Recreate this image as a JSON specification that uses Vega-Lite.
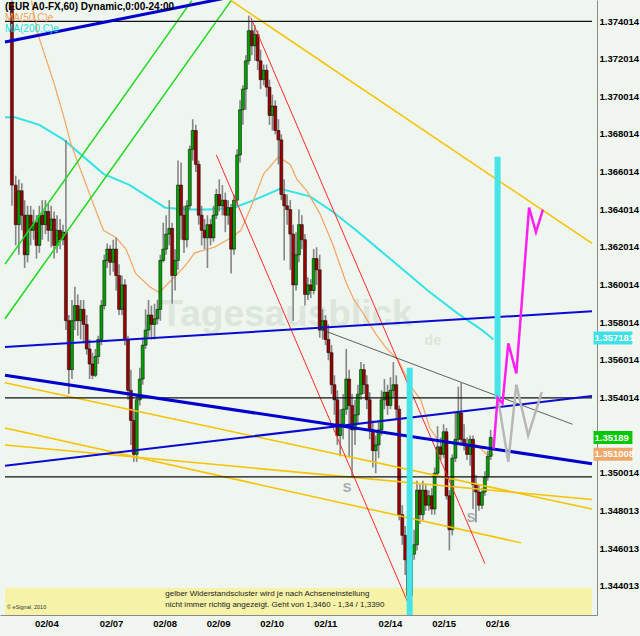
{
"$schema":"https://vega.github.io/schema/vega-lite/v6.json",
"width":597,"height":615,
"autosize":{"type":"none"},
"padding":{"left":0,"top":0,"right":43,"bottom":21},
"background":"#f1f6f1",
"config":{"view":{"stroke":null,"fill":"#eff5ef"},"font":"Liberation Sans"},
"datasets":{
"candles":[
{"t":-15.4,"o":1.3750,"h":1.3751,"l":1.3642,"c":1.3653},
{"t":-13.7,"o":1.3653,"h":1.3658,"l":1.3621,"c":1.3632},
{"t":-12.3,"o":1.3632,"h":1.3656,"l":1.3616,"c":1.3650},
{"t":-11.0,"o":1.3650,"h":1.3654,"l":1.3629,"c":1.3637},
{"t":-9.7,"o":1.3637,"h":1.3645,"l":1.3609,"c":1.3616},
{"t":-8.4,"o":1.3616,"h":1.3642,"l":1.3612,"c":1.3637},
{"t":-7.0,"o":1.3637,"h":1.3642,"l":1.3621,"c":1.3629},
{"t":-5.7,"o":1.3629,"h":1.3640,"l":1.3624,"c":1.3633},
{"t":-4.4,"o":1.3633,"h":1.3637,"l":1.3614,"c":1.3621},
{"t":-3.1,"o":1.3621,"h":1.3642,"l":1.3617,"c":1.3637},
{"t":-1.8,"o":1.3637,"h":1.3645,"l":1.3624,"c":1.3632},
{"t":-0.4,"o":1.3632,"h":1.3645,"l":1.3627,"c":1.3639},
{"t":0.9,"o":1.3639,"h":1.3643,"l":1.3623,"c":1.3629},
{"t":2.2,"o":1.3629,"h":1.3642,"l":1.3620,"c":1.3635},
{"t":3.5,"o":1.3635,"h":1.3639,"l":1.3614,"c":1.3621},
{"t":4.8,"o":1.3621,"h":1.3637,"l":1.3617,"c":1.3629},
{"t":6.2,"o":1.3629,"h":1.3635,"l":1.3619,"c":1.3624},
{"t":7.5,"o":1.3624,"h":1.3632,"l":1.3621,"c":1.3628},
{"t":8.8,"o":1.3628,"h":1.3677,"l":1.3576,"c":1.3581},
{"t":10.1,"o":1.3581,"h":1.3584,"l":1.3542,"c":1.3555},
{"t":11.5,"o":1.3555,"h":1.3592,"l":1.3550,"c":1.3581},
{"t":12.8,"o":1.3581,"h":1.3599,"l":1.3576,"c":1.3589},
{"t":14.1,"o":1.3589,"h":1.3595,"l":1.3573,"c":1.3581},
{"t":15.4,"o":1.3581,"h":1.3592,"l":1.3571,"c":1.3587},
{"t":16.7,"o":1.3587,"h":1.3592,"l":1.3569,"c":1.3579},
{"t":18.1,"o":1.3579,"h":1.3584,"l":1.3563,"c":1.3566},
{"t":19.4,"o":1.3566,"h":1.3571,"l":1.3550,"c":1.3558},
{"t":20.7,"o":1.3558,"h":1.3564,"l":1.3550,"c":1.3552},
{"t":22.0,"o":1.3552,"h":1.3566,"l":1.3551,"c":1.3562},
{"t":23.3,"o":1.3562,"h":1.3573,"l":1.3558,"c":1.3571},
{"t":24.7,"o":1.3571,"h":1.3592,"l":1.3568,"c":1.3589},
{"t":26.0,"o":1.3589,"h":1.3616,"l":1.3587,"c":1.3613},
{"t":27.3,"o":1.3613,"h":1.3622,"l":1.3609,"c":1.3619},
{"t":28.6,"o":1.3619,"h":1.3621,"l":1.3605,"c":1.3612},
{"t":30.0,"o":1.3612,"h":1.3624,"l":1.3607,"c":1.3619},
{"t":31.3,"o":1.3619,"h":1.3625,"l":1.3597,"c":1.3605},
{"t":32.6,"o":1.3605,"h":1.3611,"l":1.3584,"c":1.3587},
{"t":33.9,"o":1.3587,"h":1.3605,"l":1.3584,"c":1.3600},
{"t":35.2,"o":1.3600,"h":1.3603,"l":1.3568,"c":1.3571},
{"t":36.6,"o":1.3571,"h":1.3573,"l":1.3539,"c":1.3544},
{"t":37.9,"o":1.3544,"h":1.3555,"l":1.3515,"c":1.3528},
{"t":39.2,"o":1.3528,"h":1.3534,"l":1.3506,"c":1.3510},
{"t":40.5,"o":1.3510,"h":1.3542,"l":1.3506,"c":1.3539},
{"t":41.9,"o":1.3539,"h":1.3556,"l":1.3536,"c":1.3550},
{"t":43.2,"o":1.3550,"h":1.3572,"l":1.3547,"c":1.3568},
{"t":44.5,"o":1.3568,"h":1.3587,"l":1.3566,"c":1.3576},
{"t":45.8,"o":1.3576,"h":1.3592,"l":1.3572,"c":1.3584},
{"t":47.1,"o":1.3584,"h":1.3589,"l":1.3571,"c":1.3579},
{"t":48.5,"o":1.3579,"h":1.3590,"l":1.3571,"c":1.3582},
{"t":49.8,"o":1.3582,"h":1.3592,"l":1.3579,"c":1.3587},
{"t":51.1,"o":1.3587,"h":1.3616,"l":1.3581,"c":1.3613},
{"t":52.4,"o":1.3613,"h":1.3633,"l":1.3612,"c":1.3619},
{"t":53.7,"o":1.3619,"h":1.3637,"l":1.3616,"c":1.3627},
{"t":55.1,"o":1.3627,"h":1.3645,"l":1.3621,"c":1.3630},
{"t":56.4,"o":1.3630,"h":1.3633,"l":1.3590,"c":1.3605},
{"t":57.7,"o":1.3605,"h":1.3619,"l":1.3597,"c":1.3613},
{"t":59.0,"o":1.3613,"h":1.3666,"l":1.3608,"c":1.3653},
{"t":60.4,"o":1.3653,"h":1.3665,"l":1.3624,"c":1.3637},
{"t":61.7,"o":1.3637,"h":1.3642,"l":1.3617,"c":1.3624},
{"t":63.0,"o":1.3624,"h":1.3645,"l":1.3620,"c":1.3642},
{"t":64.3,"o":1.3642,"h":1.3674,"l":1.3640,"c":1.3672},
{"t":65.6,"o":1.3672,"h":1.3688,"l":1.3666,"c":1.3682},
{"t":67.0,"o":1.3682,"h":1.3685,"l":1.3660,"c":1.3664},
{"t":68.3,"o":1.3664,"h":1.3666,"l":1.3632,"c":1.3637},
{"t":69.6,"o":1.3637,"h":1.3642,"l":1.3621,"c":1.3629},
{"t":70.9,"o":1.3629,"h":1.3635,"l":1.3619,"c":1.3625},
{"t":72.2,"o":1.3625,"h":1.3637,"l":1.3609,"c":1.3632},
{"t":73.6,"o":1.3632,"h":1.3635,"l":1.3621,"c":1.3625},
{"t":74.9,"o":1.3625,"h":1.3642,"l":1.3623,"c":1.3637},
{"t":76.2,"o":1.3637,"h":1.3651,"l":1.3635,"c":1.3648},
{"t":77.5,"o":1.3648,"h":1.3656,"l":1.3639,"c":1.3642},
{"t":78.9,"o":1.3642,"h":1.3653,"l":1.3637,"c":1.3645},
{"t":80.2,"o":1.3645,"h":1.3649,"l":1.3628,"c":1.3637},
{"t":81.5,"o":1.3637,"h":1.3645,"l":1.3632,"c":1.3641},
{"t":82.8,"o":1.3641,"h":1.3643,"l":1.3606,"c":1.3619},
{"t":84.1,"o":1.3619,"h":1.3648,"l":1.3616,"c":1.3645},
{"t":85.5,"o":1.3645,"h":1.3672,"l":1.3642,"c":1.3669},
{"t":86.8,"o":1.3669,"h":1.3698,"l":1.3665,"c":1.3693},
{"t":88.1,"o":1.3693,"h":1.3706,"l":1.3685,"c":1.3704},
{"t":89.4,"o":1.3704,"h":1.3722,"l":1.3693,"c":1.3719},
{"t":90.7,"o":1.3719,"h":1.3743,"l":1.3717,"c":1.3735},
{"t":92.1,"o":1.3735,"h":1.3740,"l":1.3722,"c":1.3727},
{"t":93.4,"o":1.3727,"h":1.3738,"l":1.3719,"c":1.3733},
{"t":94.7,"o":1.3733,"h":1.3735,"l":1.3714,"c":1.3719},
{"t":96.0,"o":1.3719,"h":1.3725,"l":1.3704,"c":1.3709},
{"t":97.4,"o":1.3709,"h":1.3717,"l":1.3706,"c":1.3714},
{"t":98.7,"o":1.3714,"h":1.3717,"l":1.3700,"c":1.3705},
{"t":100.0,"o":1.3705,"h":1.3709,"l":1.3685,"c":1.3690},
{"t":101.3,"o":1.3690,"h":1.3701,"l":1.3682,"c":1.3695},
{"t":102.6,"o":1.3695,"h":1.3698,"l":1.3680,"c":1.3682},
{"t":104.0,"o":1.3682,"h":1.3688,"l":1.3664,"c":1.3677},
{"t":105.3,"o":1.3677,"h":1.3680,"l":1.3645,"c":1.3648},
{"t":106.6,"o":1.3648,"h":1.3656,"l":1.3613,"c":1.3642},
{"t":107.9,"o":1.3642,"h":1.3648,"l":1.3632,"c":1.3640},
{"t":109.3,"o":1.3640,"h":1.3645,"l":1.3608,"c":1.3627},
{"t":110.6,"o":1.3627,"h":1.3632,"l":1.3581,"c":1.3600},
{"t":111.9,"o":1.3600,"h":1.3628,"l":1.3597,"c":1.3616},
{"t":113.2,"o":1.3616,"h":1.3640,"l":1.3612,"c":1.3632},
{"t":114.5,"o":1.3632,"h":1.3637,"l":1.3619,"c":1.3624},
{"t":115.9,"o":1.3624,"h":1.3627,"l":1.3589,"c":1.3595},
{"t":117.2,"o":1.3595,"h":1.3604,"l":1.3592,"c":1.3600},
{"t":118.5,"o":1.3600,"h":1.3603,"l":1.3593,"c":1.3597},
{"t":119.8,"o":1.3597,"h":1.3619,"l":1.3595,"c":1.3614},
{"t":121.1,"o":1.3614,"h":1.3620,"l":1.3600,"c":1.3608},
{"t":122.5,"o":1.3608,"h":1.3616,"l":1.3572,"c":1.3576},
{"t":123.8,"o":1.3576,"h":1.3587,"l":1.3571,"c":1.3581},
{"t":125.1,"o":1.3581,"h":1.3584,"l":1.3568,"c":1.3571},
{"t":126.4,"o":1.3571,"h":1.3579,"l":1.3560,"c":1.3564},
{"t":127.8,"o":1.3564,"h":1.3568,"l":1.3542,"c":1.3547},
{"t":129.1,"o":1.3547,"h":1.3552,"l":1.3531,"c":1.3539},
{"t":130.4,"o":1.3539,"h":1.3544,"l":1.3515,"c":1.3520},
{"t":131.7,"o":1.3520,"h":1.3534,"l":1.3509,"c":1.3526},
{"t":133.0,"o":1.3526,"h":1.3542,"l":1.3518,"c":1.3534},
{"t":134.4,"o":1.3534,"h":1.3566,"l":1.3531,"c":1.3550},
{"t":135.7,"o":1.3550,"h":1.3555,"l":1.3509,"c":1.3536},
{"t":137.0,"o":1.3536,"h":1.3542,"l":1.3498,"c":1.3523},
{"t":138.3,"o":1.3523,"h":1.3539,"l":1.3515,"c":1.3531},
{"t":139.6,"o":1.3531,"h":1.3547,"l":1.3526,"c":1.3542},
{"t":141.0,"o":1.3542,"h":1.3559,"l":1.3539,"c":1.3555},
{"t":142.3,"o":1.3555,"h":1.3558,"l":1.3542,"c":1.3547},
{"t":143.6,"o":1.3547,"h":1.3552,"l":1.3534,"c":1.3539},
{"t":144.9,"o":1.3539,"h":1.3543,"l":1.3518,"c":1.3523},
{"t":146.3,"o":1.3523,"h":1.3528,"l":1.3503,"c":1.3512},
{"t":147.6,"o":1.3512,"h":1.3520,"l":1.3500,"c":1.3515},
{"t":148.9,"o":1.3515,"h":1.3528,"l":1.3508,"c":1.3523},
{"t":150.2,"o":1.3523,"h":1.3544,"l":1.3520,"c":1.3539},
{"t":151.5,"o":1.3539,"h":1.3550,"l":1.3534,"c":1.3543},
{"t":152.9,"o":1.3543,"h":1.3547,"l":1.3531,"c":1.3536},
{"t":154.2,"o":1.3536,"h":1.3551,"l":1.3534,"c":1.3544},
{"t":155.5,"o":1.3544,"h":1.3559,"l":1.3540,"c":1.3547},
{"t":156.8,"o":1.3547,"h":1.3552,"l":1.3529,"c":1.3534},
{"t":158.1,"o":1.3534,"h":1.3536,"l":1.3475,"c":1.3478},
{"t":159.5,"o":1.3478,"h":1.3483,"l":1.3462,"c":1.3467},
{"t":160.8,"o":1.3467,"h":1.3472,"l":1.3446,"c":1.3454},
{"t":162.1,"o":1.3454,"h":1.3459,"l":1.3426,"c":1.3435},
{"t":163.4,"o":1.3435,"h":1.3465,"l":1.3430,"c":1.3457},
{"t":164.8,"o":1.3457,"h":1.3470,"l":1.3454,"c":1.3462},
{"t":166.1,"o":1.3462,"h":1.3496,"l":1.3459,"c":1.3491},
{"t":167.4,"o":1.3491,"h":1.3494,"l":1.3473,"c":1.3478},
{"t":168.7,"o":1.3478,"h":1.3496,"l":1.3475,"c":1.3491},
{"t":170.0,"o":1.3491,"h":1.3494,"l":1.3480,"c":1.3483},
{"t":171.4,"o":1.3483,"h":1.3491,"l":1.3480,"c":1.3488},
{"t":172.7,"o":1.3488,"h":1.3492,"l":1.3478,"c":1.3481},
{"t":174.0,"o":1.3481,"h":1.3503,"l":1.3478,"c":1.3500},
{"t":175.3,"o":1.3500,"h":1.3525,"l":1.3498,"c":1.3514},
{"t":176.7,"o":1.3514,"h":1.3519,"l":1.3507,"c":1.3510},
{"t":178.0,"o":1.3510,"h":1.3526,"l":1.3508,"c":1.3522},
{"t":179.3,"o":1.3522,"h":1.3524,"l":1.3486,"c":1.3488},
{"t":180.6,"o":1.3488,"h":1.3491,"l":1.3459,"c":1.3470},
{"t":181.9,"o":1.3470,"h":1.3510,"l":1.3467,"c":1.3508},
{"t":183.3,"o":1.3508,"h":1.3532,"l":1.3506,"c":1.3518},
{"t":184.6,"o":1.3518,"h":1.3546,"l":1.3515,"c":1.3532},
{"t":185.9,"o":1.3532,"h":1.3548,"l":1.3515,"c":1.3518},
{"t":187.2,"o":1.3518,"h":1.3526,"l":1.3512,"c":1.3515},
{"t":188.5,"o":1.3515,"h":1.3519,"l":1.3507,"c":1.3510},
{"t":189.9,"o":1.3510,"h":1.3520,"l":1.3504,"c":1.3518},
{"t":191.2,"o":1.3518,"h":1.3520,"l":1.3481,"c":1.3494},
{"t":192.5,"o":1.3494,"h":1.3499,"l":1.3474,"c":1.3490},
{"t":193.8,"o":1.3490,"h":1.3494,"l":1.3480,"c":1.3483},
{"t":195.2,"o":1.3483,"h":1.3492,"l":1.3481,"c":1.3490},
{"t":196.5,"o":1.3490,"h":1.3501,"l":1.3488,"c":1.3498},
{"t":197.8,"o":1.3498,"h":1.3512,"l":1.3496,"c":1.3509},
{"t":199.1,"o":1.3509,"h":1.3523,"l":1.3507,"c":1.3519}
],
"ma":[
{"s":"ma200","t":-18.5,"p":1.3689},{"s":"ma200","t":-14.1,"p":1.3689},{"s":"ma200","t":-3.1,"p":1.3685},{"s":"ma200","t":7.9,"p":1.3677},{"s":"ma200","t":25.6,"p":1.3659},{"s":"ma200","t":37.4,"p":1.3653},{"s":"ma200","t":53.3,"p":1.3641},{"s":"ma200","t":63.0,"p":1.3640},{"s":"ma200","t":72.7,"p":1.3640},{"s":"ma200","t":84.1,"p":1.3641},{"s":"ma200","t":93.0,"p":1.3645},{"s":"ma200","t":104.8,"p":1.3651},{"s":"ma200","t":118.1,"p":1.3647},{"s":"ma200","t":128.2,"p":1.3639},{"s":"ma200","t":138.8,"p":1.3629},{"s":"ma200","t":148.9,"p":1.3619},{"s":"ma200","t":159.9,"p":1.3608},{"s":"ma200","t":170.9,"p":1.3597},{"s":"ma200","t":184.1,"p":1.3585},{"s":"ma200","t":195.2,"p":1.3576},{"s":"ma200","t":200.4,"p":1.3571},
{"s":"ma50","t":-6.6,"p":1.3751},{"s":"ma50","t":-4.0,"p":1.3734},{"s":"ma50","t":3.5,"p":1.3707},{"s":"ma50","t":7.9,"p":1.3689},{"s":"ma50","t":11.0,"p":1.3675},{"s":"ma50","t":15.4,"p":1.3661},{"s":"ma50","t":19.8,"p":1.3647},{"s":"ma50","t":25.6,"p":1.3629},{"s":"ma50","t":31.3,"p":1.3625},{"s":"ma50","t":35.7,"p":1.3619},{"s":"ma50","t":40.1,"p":1.3606},{"s":"ma50","t":46.3,"p":1.3599},{"s":"ma50","t":50.7,"p":1.3596},{"s":"ma50","t":56.4,"p":1.3603},{"s":"ma50","t":62.1,"p":1.3610},{"s":"ma50","t":66.5,"p":1.3617},{"s":"ma50","t":75.3,"p":1.3620},{"s":"ma50","t":82.8,"p":1.3625},{"s":"ma50","t":87.2,"p":1.3629},{"s":"ma50","t":91.6,"p":1.3641},{"s":"ma50","t":97.4,"p":1.3659},{"s":"ma50","t":104.0,"p":1.3668},{"s":"ma50","t":109.3,"p":1.3664},{"s":"ma50","t":112.3,"p":1.3656},{"s":"ma50","t":116.7,"p":1.3650},{"s":"ma50","t":122.5,"p":1.3638},{"s":"ma50","t":128.2,"p":1.3622},{"s":"ma50","t":134.4,"p":1.3601},{"s":"ma50","t":137.9,"p":1.3592},{"s":"ma50","t":141.4,"p":1.3586},{"s":"ma50","t":147.6,"p":1.3574},{"s":"ma50","t":152.0,"p":1.3567},{"s":"ma50","t":157.7,"p":1.3560},{"s":"ma50","t":163.4,"p":1.3546},{"s":"ma50","t":167.8,"p":1.3539},{"s":"ma50","t":171.8,"p":1.3524},{"s":"ma50","t":175.3,"p":1.3518},{"s":"ma50","t":180.6,"p":1.3516},{"s":"ma50","t":186.3,"p":1.3515},{"s":"ma50","t":193.0,"p":1.3515},{"s":"ma50","t":197.4,"p":1.3510},{"s":"ma50","t":200.4,"p":1.3510}
],
"trend":[
{"id":"b1","s":"bt","t":-18.5,"p":1.3729},{"id":"b1","s":"bt","t":91.6,"p":1.3755},
{"id":"b2","s":"b","t":-18.5,"p":1.3567},{"id":"b2","s":"b","t":244.5,"p":1.3586},
{"id":"b3","s":"bt","t":-18.5,"p":1.3552},{"id":"b3","s":"bt","t":244.5,"p":1.3505},
{"id":"b4","s":"b","t":-18.5,"p":1.3504},{"id":"b4","s":"b","t":244.5,"p":1.3541},
{"id":"h1","s":"k","t":-18.5,"p":1.3740},{"id":"h1","s":"k","t":244.5,"p":1.3740},
{"id":"h2","s":"k","t":-18.5,"p":1.3540},{"id":"h2","s":"k","t":244.5,"p":1.3540},
{"id":"h3","s":"k","t":-18.5,"p":1.3498},{"id":"h3","s":"k","t":244.5,"p":1.3498},
{"id":"d1","s":"kt","t":121.6,"p":1.3577},{"id":"d1","s":"kt","t":235.7,"p":1.3526},
{"id":"y0","s":"y","t":82.8,"p":1.3751},{"id":"y0","s":"y","t":244.5,"p":1.3622},
{"id":"y1","s":"y","t":-18.5,"p":1.3548},{"id":"y1","s":"y","t":244.5,"p":1.3481},
{"id":"y2","s":"y","t":-18.5,"p":1.3524},{"id":"y2","s":"y","t":212.8,"p":1.3463},
{"id":"y3","s":"y","t":-18.5,"p":1.3515},{"id":"y3","s":"y","t":244.5,"p":1.3486},
{"id":"g1","s":"g","t":-18.5,"p":1.3611},{"id":"g1","s":"g","t":65.2,"p":1.3751},
{"id":"g2","s":"g","t":-18.5,"p":1.3582},{"id":"g2","s":"g","t":82.8,"p":1.3751},
{"id":"r1","s":"r","t":91.6,"p":1.3742},{"id":"r1","s":"r","t":196.5,"p":1.3452},
{"id":"r2","s":"r","t":76.2,"p":1.3669},{"id":"r2","s":"r","t":162.1,"p":1.3431}
],
"bars":[{"t":162.8,"top":1.3556,"bot":1.3420},{"t":202.2,"top":1.3668,"bot":1.3540}],
"proj":[
{"id":"z","s":"z","t":202.2,"p":1.3541},{"id":"z","s":"z","t":207.0,"p":1.3506},{"id":"z","s":"z","t":210.6,"p":1.3547},{"id":"z","s":"z","t":215.9,"p":1.3520},{"id":"z","s":"z","t":222.0,"p":1.3543},
{"id":"m","s":"m","t":200.4,"p":1.3513},{"id":"m","s":"m","t":202.2,"p":1.3540},{"id":"m","s":"m","t":204.4,"p":1.3537},{"id":"m","s":"m","t":207.0,"p":1.3569},{"id":"m","s":"m","t":210.6,"p":1.3553},{"id":"m","s":"m","t":216.3,"p":1.3641},{"id":"m","s":"m","t":219.4,"p":1.3628},{"id":"m","s":"m","t":222.5,"p":1.3640}
],
"badges":[{"v":1.357181,"lbl":"1.357181","k":"ma200"},{"v":1.35189,"lbl":"1.35189","k":"px"},{"v":1.351008,"lbl":"1.351008","k":"ma50"}]
},
"layer":[
{"data":{"values":[{"lo":1.3420,"hi":1.3439}]},
 "mark":{"type":"rect","color":"#f6f3a8","clip":true},
 "encoding":{"x":{"datum":-18.5,"type":"quantitative"},"x2":{"datum":244.5},"y":{"field":"lo","type":"quantitative","title":null},"y2":{"field":"hi"}}},
{"data":{"values":[{}]},
 "mark":{"type":"text","text":"Tagesausblick","font":"Liberation Sans","fontSize":37,"fontWeight":"bold","fill":"#dce6dc","align":"left","baseline":"alphabetic"},
 "encoding":{"x":{"datum":51.1,"type":"quantitative"},"y":{"datum":1.3578,"type":"quantitative"}}},
{"data":{"values":[{}]},
 "mark":{"type":"text","text":"de","font":"Liberation Sans","fontSize":14,"fontWeight":"bold","fill":"#dce6dc","align":"left","baseline":"middle"},
 "encoding":{"x":{"datum":169.5,"type":"quantitative"},"y":{"datum":1.3570,"type":"quantitative"}}},
{"data":{"name":"ma"},"transform":[{"filter":"datum.s=='ma200'"}],
 "mark":{"type":"line","color":"#33e3e6","strokeWidth":2,"clip":true},
 "encoding":{"x":{"field":"t","type":"quantitative","title":null},"y":{"field":"p","type":"quantitative","title":null}}},
{"data":{"name":"ma"},"transform":[{"filter":"datum.s=='ma50'"}],
 "mark":{"type":"line","color":"#f4a460","strokeWidth":1.2,"clip":true},
 "encoding":{"x":{"field":"t","type":"quantitative","title":null},"y":{"field":"p","type":"quantitative","title":null}}},
{"data":{"name":"candles"},
 "mark":{"type":"rule","color":"#858585","strokeWidth":1.6,"clip":true},
 "encoding":{
  "x":{"field":"t","type":"quantitative","title":null,"scale":{"domain":[-18.5,244.5],"nice":false,"zero":false},
   "axis":{"title":null,"values":[0,29,53,77,101,125,154,178,202],
    "labelExpr":"datum.value==0?'02/04':datum.value==29?'02/07':datum.value==53?'02/08':datum.value==77?'02/09':datum.value==101?'02/10':datum.value==125?'02/11':datum.value==154?'02/14':datum.value==178?'02/15':'02/16'",
    "grid":false,"ticks":false,"domainColor":"#8a8a8a","labelFont":"Liberation Sans","labelFontWeight":"bold","labelFontSize":9.5,"labelColor":"#000000","labelPadding":3,"labelFlush":false,"labelOverlap":false}},
  "y":{"field":"l","type":"quantitative","title":null,"scale":{"domain":[1.34247,1.37513],"nice":false,"zero":false},
   "axis":{"title":null,"orient":"right","values":[1.344013,1.346013,1.348013,1.350014,1.354014,1.356014,1.358014,1.360014,1.362014,1.364014,1.366014,1.368014,1.370014,1.372014,1.374014],
    "format":".6f","grid":false,"ticks":false,"domainColor":"#8a8a8a","labelFont":"Liberation Sans","labelFontWeight":"bold","labelFontSize":9.5,"labelColor":"#000000","labelPadding":2,"labelOverlap":false}},
  "y2":{"field":"h"}}},
{"data":{"name":"candles"},
 "mark":{"type":"bar","width":3,"stroke":"#000000","strokeWidth":0.5,"clip":true},
 "encoding":{"x":{"field":"t","type":"quantitative","title":null},"y":{"field":"o","type":"quantitative","title":null},"y2":{"field":"c"},
  "fill":{"condition":{"test":"datum.c < datum.o","value":"#9a0000"},"value":"#00a000"}}},
{"data":{"name":"trend"},"transform":[{"filter":"datum.s=='y'"}],
 "mark":{"type":"line","color":"#f5c300","strokeWidth":1.5,"clip":true},
 "encoding":{"x":{"field":"t","type":"quantitative","title":null},"y":{"field":"p","type":"quantitative","title":null},"detail":{"field":"id"}}},
{"data":{"name":"trend"},"transform":[{"filter":"datum.s=='g'"}],
 "mark":{"type":"line","color":"#1ed81e","strokeWidth":1.5,"clip":true},
 "encoding":{"x":{"field":"t","type":"quantitative","title":null},"y":{"field":"p","type":"quantitative","title":null},"detail":{"field":"id"}}},
{"data":{"name":"trend"},"transform":[{"filter":"datum.s=='r'"}],
 "mark":{"type":"line","color":"#ff2a2a","strokeWidth":1,"clip":true},
 "encoding":{"x":{"field":"t","type":"quantitative","title":null},"y":{"field":"p","type":"quantitative","title":null},"detail":{"field":"id"}}},
{"data":{"name":"trend"},"transform":[{"filter":"datum.s=='k'"}],
 "mark":{"type":"line","color":"#111111","strokeWidth":1.2,"clip":true},
 "encoding":{"x":{"field":"t","type":"quantitative","title":null},"y":{"field":"p","type":"quantitative","title":null},"detail":{"field":"id"}}},
{"data":{"name":"trend"},"transform":[{"filter":"datum.s=='kt'"}],
 "mark":{"type":"line","color":"#3a3a3a","strokeWidth":0.8,"clip":true},
 "encoding":{"x":{"field":"t","type":"quantitative","title":null},"y":{"field":"p","type":"quantitative","title":null},"detail":{"field":"id"}}},
{"data":{"name":"trend"},"transform":[{"filter":"datum.s=='b'"}],
 "mark":{"type":"line","color":"#0b0bd0","strokeWidth":2,"clip":true},
 "encoding":{"x":{"field":"t","type":"quantitative","title":null},"y":{"field":"p","type":"quantitative","title":null},"detail":{"field":"id"}}},
{"data":{"name":"trend"},"transform":[{"filter":"datum.s=='bt'"}],
 "mark":{"type":"line","color":"#0000cc","strokeWidth":3,"clip":true},
 "encoding":{"x":{"field":"t","type":"quantitative","title":null},"y":{"field":"p","type":"quantitative","title":null},"detail":{"field":"id"}}},
{"data":{"values":[{"t":134.8,"p":1.3492},{"t":190.3,"p":1.3476}]},
 "mark":{"type":"text","text":"S","fontSize":13,"fontWeight":"bold","fill":"#aaaaaa","font":"Liberation Sans"},
 "encoding":{"x":{"field":"t","type":"quantitative","title":null},"y":{"field":"p","type":"quantitative","title":null}}},
{"data":{"name":"bars"},
 "mark":{"type":"rule","color":"#44e4e8","strokeWidth":6,"clip":true},
 "encoding":{"x":{"field":"t","type":"quantitative","title":null},"y":{"field":"top","type":"quantitative","title":null},"y2":{"field":"bot"}}},
{"data":{"name":"proj"},"transform":[{"filter":"datum.s=='z'"}],
 "mark":{"type":"line","color":"#b7b7b7","strokeWidth":2.5,"clip":true},
 "encoding":{"x":{"field":"t","type":"quantitative","title":null},"y":{"field":"p","type":"quantitative","title":null}}},
{"data":{"name":"proj"},"transform":[{"filter":"datum.s=='m'"}],
 "mark":{"type":"line","color":"#ff1ff0","strokeWidth":2.5,"clip":true},
 "encoding":{"x":{"field":"t","type":"quantitative","title":null},"y":{"field":"p","type":"quantitative","title":null}}},
{"data":{"name":"badges"},
 "mark":{"type":"rule","strokeWidth":13,"strokeCap":"butt"},
 "encoding":{"x":{"datum":245.2,"type":"quantitative"},"x2":{"datum":262.6},"y":{"field":"v","type":"quantitative","title":null},
  "color":{"field":"k","type":"nominal","legend":null,"scale":{"domain":["ma200","px","ma50"],"range":["#3fe0e6","#00c800","#f0a868"]}}}},
{"data":{"name":"badges"},
 "mark":{"type":"text","align":"left","baseline":"middle","fill":"#ffffff","fontSize":9.5,"fontWeight":"bold","font":"Liberation Sans","dx":1},
 "encoding":{"x":{"datum":245.2,"type":"quantitative"},"y":{"field":"v","type":"quantitative","title":null},"text":{"field":"lbl"}}},
{"data":{"values":[{}]},
 "mark":{"type":"text","text":"(EUR A0-FX,60) Dynamic,0:00-24:00","align":"left","baseline":"middle","fill":"#000000","fontSize":10,"fontWeight":"bold","font":"Liberation Sans"},
 "encoding":{"x":{"datum":-18.5,"type":"quantitative"},"y":{"datum":1.37475,"type":"quantitative"}}},
{"data":{"values":[{}]},
 "mark":{"type":"text","text":"MA(50,C)e","align":"left","baseline":"middle","fill":"#f4a460","fontSize":10,"font":"Liberation Sans"},
 "encoding":{"x":{"datum":-18.5,"type":"quantitative"},"y":{"datum":1.3742,"type":"quantitative"}}},
{"data":{"values":[{}]},
 "mark":{"type":"text","text":"MA(200,C)e","align":"left","baseline":"middle","fill":"#22dde0","fontSize":10,"font":"Liberation Sans"},
 "encoding":{"x":{"datum":-18.5,"type":"quantitative"},"y":{"datum":1.3736,"type":"quantitative"}}},
{"data":{"values":[{}]},
 "mark":{"type":"text","text":"gelber Widerstandscluster wird je nach Achseneinstellung","align":"left","baseline":"middle","fill":"#222222","fontSize":8,"font":"Liberation Sans"},
 "encoding":{"x":{"datum":53.3,"type":"quantitative"},"y":{"datum":1.3436,"type":"quantitative"}}},
{"data":{"values":[{}]},
 "mark":{"type":"text","text":"nicht immer richtig angezeigt. Geht von 1,3460 - 1,34 / 1,3390","align":"left","baseline":"middle","fill":"#222222","fontSize":8,"font":"Liberation Sans"},
 "encoding":{"x":{"datum":53.3,"type":"quantitative"},"y":{"datum":1.3430,"type":"quantitative"}}},
{"data":{"values":[{}]},
 "mark":{"type":"text","text":"© eSignal, 2010","align":"left","baseline":"middle","fill":"#333333","fontSize":5.5,"font":"Liberation Sans"},
 "encoding":{"x":{"datum":-17.6,"type":"quantitative"},"y":{"datum":1.3429,"type":"quantitative"}}}
]
}
